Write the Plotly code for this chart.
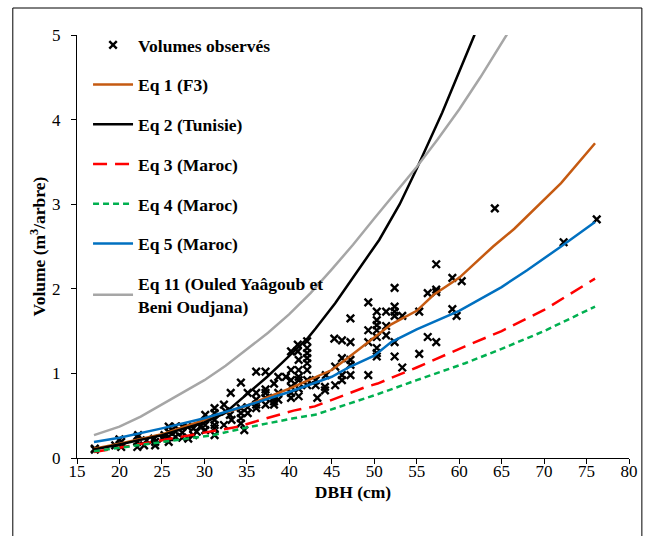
import plotly.graph_objects as go

# ---- Observed volumes (DBH cm, Volume m3/tree) ----
obs_dbh = [17.1, 17.1, 19.5, 20.2, 20.2, 20.0, 22.1, 22.1, 22.1, 22.2, 22.9, 23.2, 24.2, 24.1, 24.2,
           25.1, 25.3, 25.8, 25.8, 25.8, 25.8, 26.6, 26.6, 26.6, 27.4, 27.4, 27.4, 28.1, 28.0, 28.7,
           28.7, 29.1, 29.5, 30.1, 30.1, 30.1, 31.2, 31.2, 31.2, 31.2, 31.2, 31.2, 32.3, 32.3, 32.5,
           33.1, 33.0, 33.2, 34.3, 34.3, 34.3, 34.3, 34.3, 34.7, 35.1, 35.1, 35.1, 36.1, 36.1, 36.1,
           36.1, 36.1, 37.2, 37.2, 37.2, 37.2, 37.2, 38.2, 38.2, 38.2, 38.2, 38.7, 38.7, 38.7, 39.6,
           40.2, 40.2, 40.2, 40.2, 40.2, 40.2, 41.0, 41.0, 41.1, 41.1, 41.1, 41.1, 41.1, 41.1, 42.1,
           42.1, 42.1, 42.1, 42.1, 42.1, 42.1, 42.1, 43.1, 43.1, 43.3, 44.3, 44.2, 44.2, 45.3, 45.4,
           45.4, 46.2, 46.2, 46.2, 46.2, 47.2, 47.2, 47.2, 47.2, 47.2, 49.3, 49.3, 49.3, 49.3, 50.3,
           50.3, 50.3, 50.3, 50.3, 50.3, 50.3, 50.3, 51.4, 51.4, 51.4, 52.4, 52.4, 52.4, 52.4, 52.4,
           52.4, 53.3, 53.3, 55.3, 55.3, 56.3, 56.3, 57.3, 57.3, 57.3, 57.3, 59.2, 59.2, 59.7, 60.3,
           64.2, 72.3, 76.2]
obs_vol = [0.10, 0.11, 0.15, 0.19, 0.13, 0.22, 0.25, 0.19, 0.13, 0.27, 0.15, 0.21, 0.19, 0.23, 0.15,
           0.23, 0.27, 0.37, 0.31, 0.25, 0.19, 0.37, 0.31, 0.25, 0.37, 0.30, 0.24, 0.23, 0.37, 0.35,
           0.27, 0.31, 0.37, 0.51, 0.39, 0.33, 0.59, 0.53, 0.45, 0.39, 0.27, 0.35, 0.63, 0.39, 0.55,
           0.77, 0.51, 0.45, 0.89, 0.59, 0.53, 0.47, 0.41, 0.33, 0.77, 0.53, 0.60, 1.02, 0.77, 0.69,
           0.63, 0.59, 1.02, 0.81, 0.71, 0.63, 0.77, 0.88, 0.71, 0.63, 0.67, 0.96, 0.77, 0.69, 0.96,
           1.26, 1.04, 0.92, 0.84, 0.77, 0.71, 1.34, 1.26, 1.16, 1.04, 0.96, 0.92, 0.82, 0.73, 1.38,
           1.30, 1.24, 1.18, 1.12, 1.04, 0.92, 0.86, 0.92, 0.86, 0.71, 0.98, 0.84, 0.80, 1.41, 1.08,
           0.86, 1.39, 1.18, 0.98, 0.92, 1.65, 1.37, 1.16, 1.10, 0.98, 1.84, 1.51, 1.37, 0.98, 1.73,
           1.63, 1.57, 1.51, 1.43, 1.30, 1.24, 1.20, 1.73, 1.56, 1.45, 2.01, 1.79, 1.73, 1.68, 1.37,
           1.20, 1.68, 1.07, 1.73, 1.23, 1.95, 1.43, 2.29, 1.99, 1.96, 1.37, 2.13, 1.76, 1.68, 2.09,
           2.95, 2.55, 2.82]

# ---- Model curves ----
eq1_dbh = [17, 20, 25, 30, 35, 40, 42, 45, 47, 50, 52, 55, 57, 60, 64, 66.5, 70, 72, 76]
eq1_vol = [0.11, 0.17, 0.28, 0.45, 0.62, 0.82, 0.91, 1.04, 1.19, 1.42, 1.58, 1.74, 1.93, 2.13, 2.50, 2.71, 3.05, 3.25, 3.72]

eq2_dbh = [17, 20, 25, 30, 32.4, 34.3, 37.4, 39.2, 40.9, 42.2, 43.1, 45.4, 48.1, 50.6, 53, 55, 58, 60, 61.8, 63]
eq2_vol = [0.10, 0.16, 0.27, 0.42, 0.53, 0.69, 0.96, 1.13, 1.30, 1.42, 1.53, 1.83, 2.22, 2.58, 3.00, 3.42, 4.08, 4.57, 5.00, 5.40]

eq3_dbh = [17, 20, 25, 30, 34, 36.3, 40.5, 43, 49, 50.4, 55, 60.7, 65, 70, 76]
eq3_vol = [0.07, 0.12, 0.21, 0.30, 0.37, 0.44, 0.56, 0.61, 0.84, 0.88, 1.07, 1.32, 1.50, 1.75, 2.12]

eq4_dbh = [17, 20, 25, 31, 35, 40.5, 43, 50, 55, 60.7, 65, 70, 76]
eq4_vol = [0.08, 0.12, 0.19, 0.27, 0.36, 0.47, 0.51, 0.74, 0.92, 1.12, 1.29, 1.50, 1.79]

eq5_dbh = [17, 20, 25, 30, 35, 40, 45, 47, 50, 52, 55, 60, 65, 68, 72, 76]
eq5_vol = [0.19, 0.24, 0.35, 0.47, 0.62, 0.78, 0.96, 1.07, 1.21, 1.37, 1.52, 1.74, 2.02, 2.22, 2.50, 2.79]

eq11_dbh = [17, 20, 22.5, 25, 27.5, 30, 32.5, 35, 37.5, 40, 42.5, 45, 47.5, 50, 52.5, 55, 57.5, 60, 62.5, 65, 67.5, 70]
eq11_vol = [0.27, 0.37, 0.49, 0.63, 0.77, 0.92, 1.09, 1.28, 1.48, 1.70, 1.95, 2.23, 2.52, 2.83, 3.13, 3.44, 3.77, 4.12, 4.50, 4.90, 5.31, 5.75]

x_ticks = [15, 20, 25, 30, 35, 40, 45, 50, 55, 60, 65, 70, 75, 80]
y_ticks = [0, 1, 2, 3, 4, 5]

FONT = "Liberation Serif"

fig = go.Figure()
fig.add_trace(go.Scatter(x=obs_dbh, y=obs_vol, mode="markers", name="Volumes observés",
                         marker=dict(symbol="x-thin-open", size=7.5, color="black",
                                     line=dict(color="black", width=2.4)),
                         legendgroup="a"))
fig.add_trace(go.Scatter(x=eq1_dbh, y=eq1_vol, mode="lines", name="Eq 1 (F3)",
                         line=dict(color="#C55A11", width=2.5), legendgroup="b"))
fig.add_trace(go.Scatter(x=eq2_dbh, y=eq2_vol, mode="lines", name="Eq 2 (Tunisie)",
                         line=dict(color="black", width=2.5), legendgroup="c"))
fig.add_trace(go.Scatter(x=eq3_dbh, y=eq3_vol, mode="lines", name="Eq 3 (Maroc)",
                         line=dict(color="#FF0000", width=2.5, dash="14px,8px"), legendgroup="d"))
fig.add_trace(go.Scatter(x=eq4_dbh, y=eq4_vol, mode="lines", name="Eq 4 (Maroc)",
                         line=dict(color="#00B050", width=2.5, dash="6px,4px"), legendgroup="e"))
fig.add_trace(go.Scatter(x=eq5_dbh, y=eq5_vol, mode="lines", name="Eq 5 (Maroc)",
                         line=dict(color="#0070C0", width=2.5), legendgroup="f"))
fig.add_trace(go.Scatter(x=eq11_dbh, y=eq11_vol, mode="lines",
                         name="Eq 11 (Ouled Yaâgoub et<br>Beni Oudjana)",
                         line=dict(color="#A6A6A6", width=2.5), legendgroup="g"))

fig.update_layout(
    width=650, height=536,
    margin=dict(l=77, r=14, t=35, b=78),
    paper_bgcolor="white", plot_bgcolor="white",
    font=dict(family=FONT, color="black", size=17),
    showlegend=True,
    legend=dict(x=0.02, y=1.019, xanchor="left", yanchor="top", maxheight=500,
                font=dict(family=FONT, size=17.5, color="black", weight="bold"),
                bgcolor="rgba(0,0,0,0)", tracegroupgap=14, itemwidth=40),
    xaxis=dict(range=[15, 80], tickvals=x_ticks, showgrid=False, zeroline=False,
               showline=True, linecolor="black", linewidth=1,
               ticks="outside", ticklen=5, tickcolor="black", ticklabelstandoff=-7,
               tickfont=dict(family=FONT, size=17),
               title=dict(text="DBH (cm)", font=dict(family=FONT, size=17.5, weight="bold"), standoff=5)),
    yaxis=dict(range=[0, 5], tickvals=y_ticks, showgrid=False, zeroline=False,
               showline=True, linecolor="black", linewidth=1,
               ticks="outside", ticklen=5, tickcolor="black", ticklabelstandoff=7,
               tickfont=dict(family=FONT, size=17),
               title=dict(text="Volume (m<sup>3</sup>/arbre)", font=dict(family=FONT, size=17.5, weight="bold"), standoff=1)),
    shapes=[dict(type="rect", xref="paper", yref="paper",
                 x0=-0.1163, x1=1.0233, y0=-0.3, y1=1.0638,
                 line=dict(color="black", width=1), layer="below")],
)

fig.write_html("out.html")
